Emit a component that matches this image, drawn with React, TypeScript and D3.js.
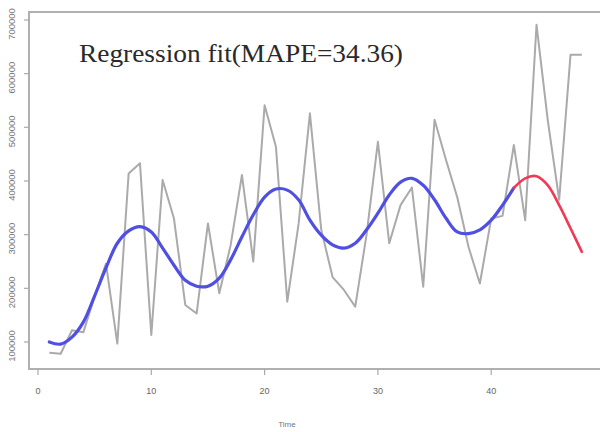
import React from "react";
import * as d3 from "d3";

const timeIdx: number[] = Array.from({ length: 48 }, (_, i) => i + 1);
const actual: number[] = [
  80000, 78000, 122000, 118000, 185000, 246000, 97000, 414000, 433000, 113000,
  402000, 330000, 169000, 153000, 321000, 191000, 280000, 411000, 250000, 541000,
  464000, 175000, 320000, 526000, 309000, 221000, 197000, 166000, 300000, 473000,
  284000, 355000, 388000, 203000, 514000, 440000, 370000, 277000, 209000, 330000,
  335000, 467000, 327000, 691000, 512000, 365000, 635000, 635000,
];
const fitTime: number[] = Array.from({ length: 42 }, (_, i) => i + 1);
const fitted: number[] = [
  100000, 96000, 109000, 137000, 186000, 238000, 284000, 307000, 315000, 305000,
  275000, 243000, 215000, 204000, 204000, 219000, 253000, 296000, 337000, 370000,
  385000, 383000, 365000, 327000, 299000, 281000, 275000, 284000, 309000, 340000,
  374000, 398000, 405000, 392000, 365000, 331000, 305000, 302000, 309000, 327000,
  355000, 387000,
];
const fcTime: number[] = [42, 43, 44, 45, 46, 47, 48];
const forecast: number[] = [387000, 405000, 409000, 392000, 355000, 312000, 268000];
const xTicks: number[] = [0, 10, 20, 30, 40];
const yTicks: number[] = [100000, 200000, 300000, 400000, 500000, 600000, 700000];
const titleText = "Regression fit(MAPE=34.36)";
const xLabel = "Time";

export default function App() {
  const W = 600, H = 432;
  const left = 29, right = 600, top = 12, bottom = 369;
  const x = d3.scaleLinear().domain([0, 10]).range([38, 151.3]);
  const y = d3.scaleLinear().domain([100000, 200000]).range([342, 288.33]);

  const lineA = d3.line<number>().x((_, i) => x(timeIdx[i])).y((d) => y(d));
  const lineF = d3
    .line<number>()
    .x((_, i) => x(fitTime[i]))
    .y((d) => y(d))
    .curve(d3.curveCatmullRom.alpha(0.5));
  const lineR = d3
    .line<number>()
    .x((_, i) => x(fcTime[i]))
    .y((d) => y(d))
    .curve(d3.curveCatmullRom.alpha(0.5));

  return (
    <svg
      width={W}
      height={H}
      style={{ position: "absolute", left: 0, top: 0, background: "#fff" }}
      fontFamily="'Liberation Sans', Arial, sans-serif"
    >
      <rect x={0} y={0} width={W} height={H} fill="#fff" />
      {/* frame */}
      <path
        d={`M${right},${top}H${left}V${bottom}H${right}`}
        fill="none"
        stroke="#b0b0b0"
        strokeWidth={2}
      />
      {/* x ticks */}
      {xTicks.map((t) => (
        <g key={"x" + t}>
          <line x1={x(t)} x2={x(t)} y1={bottom} y2={bottom + 6} stroke="#aaa" strokeWidth={1.2} />
          <text x={x(t)} y={bottom + 25} textAnchor="middle" fontSize={9} fill="#666">
            {t}
          </text>
        </g>
      ))}
      {/* y ticks */}
      {yTicks.map((t) => (
        <g key={"y" + t}>
          <line x1={left - 5} x2={left} y1={y(t)} y2={y(t)} stroke="#aaa" strokeWidth={1.2} />
          <text
            transform={`translate(15,${y(t) + 4}) rotate(-90)`}
            textAnchor="middle"
            fontSize={9.5}
            fill="#777"
          >
            {t}
          </text>
        </g>
      ))}
      <text x={287} y={427} textAnchor="middle" fontSize={8} fill="#777">
        {xLabel}
      </text>
      {/* actual */}
      <path d={lineA(actual) || ""} fill="none" stroke="#aaaaaa" strokeWidth={2} strokeLinejoin="round" />
      {/* fitted */}
      <path d={lineF(fitted) || ""} fill="none" stroke="#4f4fe2" strokeWidth={3.2} strokeLinecap="round" />
      {/* forecast */}
      <path d={lineR(forecast) || ""} fill="none" stroke="#f03a55" strokeWidth={2.6} strokeLinecap="round" />
      <text
        x={79}
        y={62}
        fontFamily="'Liberation Serif', 'Times New Roman', serif"
        fontSize={26}
        fill="#2a2a2a"
        textLength={324}
        lengthAdjust="spacingAndGlyphs"
      >
        {titleText}
      </text>
    </svg>
  );
}
